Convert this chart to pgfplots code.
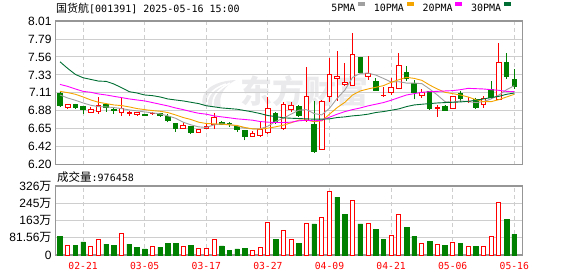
\documentclass[border=0pt]{standalone}
\usepackage{fontspec}
\setmainfont{Liberation Sans}
\newfontfamily\cjk{Noto Sans CJK SC}
\newfontfamily\mono{DejaVu Sans Mono}
\usepackage{pgfplots}
\usepackage{pgfplotstable}
\pgfplotsset{compat=1.18}
\usepgfplotslibrary{statistics}
\definecolor{kred}{RGB}{255,0,0}
\definecolor{kgreen}{RGB}{0,128,0}
\definecolor{ma5}{RGB}{160,160,160}
\definecolor{ma10}{RGB}{245,165,0}
\definecolor{ma20}{RGB}{255,0,255}
\definecolor{ma30}{RGB}{0,110,50}
\definecolor{gridc}{RGB}{206,206,206}
\definecolor{framec}{RGB}{150,150,150}
\definecolor{wmark}{RGB}{234,234,237}

% up (red, hollow) candles: O < C
\pgfplotstableread{
i O H L C
1 6.92 6.965 6.905 6.96
4 6.86 6.92 6.85 6.897
5 6.87 7.053 6.843 6.948
8 6.86 7.053 6.818 6.91
9 6.85 6.877 6.81 6.86
10 6.83 6.86 6.81 6.855
12 6.84 6.86 6.83 6.85
16 6.658 6.734 6.65 6.696
18 6.608 6.65 6.605 6.645
19 6.658 6.725 6.65 6.675
20 6.708 6.85 6.65 6.797
25 6.557 6.624 6.548 6.586
26 6.561 6.73 6.553 6.637
27 6.608 7.053 6.59 6.91
29 6.658 6.994 6.637 6.952
30 6.89 6.985 6.864 6.945
32 6.759 7.426 6.742 7.061
34 6.39 7.01 6.38 7.00
35 7.061 7.552 6.985 7.338
36 7.288 7.632 7.002 7.313
37 7.212 7.48 7.187 7.242
38 7.204 7.867 7.20 7.59
40 7.313 7.57 7.27 7.35
42 7.07 7.179 7.053 7.078
43 7.111 7.288 7.078 7.175
44 7.162 7.611 7.153 7.452
47 7.07 7.153 7.036 7.107
49 6.912 6.952 6.801 6.92
51 6.91 7.061 6.906 7.061
53 6.994 7.048 6.985 7.002
55 6.96 7.061 6.918 7.036
57 7.023 7.733 7.011 7.489
}\kup
% down (green, filled) candles: O > C
\pgfplotstableread{
i O H L C
0 7.10 7.11 6.92 6.94
2 6.952 6.97 6.90 6.918
3 6.927 6.93 6.835 6.89
6 6.952 6.955 6.864 6.914
7 6.893 6.92 6.843 6.88
11 6.832 6.843 6.81 6.825
13 6.84 6.856 6.805 6.82
14 6.805 6.834 6.73 6.75
15 6.713 6.72 6.616 6.658
17 6.683 6.69 6.59 6.608
21 6.73 6.75 6.696 6.708
22 6.72 6.73 6.675 6.713
23 6.683 6.70 6.616 6.645
24 6.628 6.635 6.503 6.557
28 6.847 6.86 6.713 6.73
31 6.927 6.952 6.805 6.818
33 6.70 7.002 6.347 6.364
39 7.556 7.56 7.355 7.363
41 7.254 7.288 7.137 7.137
45 7.368 7.443 7.259 7.288
46 7.221 7.263 7.023 7.111
48 7.12 7.12 6.902 6.906
50 6.927 6.952 6.88 6.88
52 7.095 7.128 6.994 7.032
54 7.027 7.044 6.902 6.918
56 7.153 7.254 7.027 7.044
58 7.493 7.603 7.284 7.309
59 7.28 7.405 7.153 7.191
}\kdn
% moving averages
\pgfplotstableread{
i m5 m10 m20 m30
0 7.078 7.124 7.212 7.498
1 7.040 7.108 7.187 7.414
2 7.011 7.087 7.154 7.338
3 6.977 7.053 7.124 7.296
4 6.948 7.015 7.112 7.275
5 6.931 6.986 7.091 7.254
6 6.927 6.969 7.078 7.250
7 6.919 6.952 7.061 7.217
8 6.906 6.944 7.045 7.170
9 6.889 6.927 7.028 7.120
10 6.877 6.906 7.015 7.103
11 6.864 6.893 7.003 7.078
12 6.852 6.881 6.982 7.070
13 6.839 6.872 6.961 7.053
14 6.814 6.856 6.940 7.028
15 6.784 6.826 6.914 7.015
16 6.734 6.793 6.893 7.003
17 6.700 6.768 6.868 6.986
18 6.675 6.734 6.847 6.969
19 6.667 6.717 6.835 6.942
20 6.700 6.713 6.814 6.928
21 6.713 6.709 6.801 6.914
22 6.705 6.700 6.789 6.906
23 6.688 6.692 6.776 6.898
24 6.658 6.667 6.768 6.881
25 6.650 6.650 6.759 6.864
26 6.650 6.646 6.742 6.843
27 6.684 6.658 6.734 6.818
28 6.742 6.675 6.730 6.805
29 6.784 6.696 6.730 6.789
30 6.835 6.726 6.734 6.784
31 6.885 6.759 6.751 6.780
32 6.893 6.763 6.759 6.776
33 6.843 6.740 6.751 6.772
34 6.826 6.751 6.759 6.772
35 6.910 6.835 6.797 6.776
36 7.036 6.919 6.835 6.793
37 7.141 6.986 6.868 6.801
38 7.301 7.078 6.893 6.814
39 7.351 7.129 6.914 6.822
40 7.355 7.154 6.940 6.835
41 7.330 7.175 6.961 6.856
42 7.288 7.196 6.982 6.868
43 7.242 7.238 7.011 6.885
44 7.246 7.271 7.045 6.902
45 7.229 7.301 7.078 6.931
46 7.229 7.288 7.095 6.952
47 7.221 7.263 7.112 6.961
48 7.154 7.204 7.120 6.969
49 7.078 7.154 7.124 6.977
50 6.994 7.112 7.129 6.982
51 6.986 7.095 7.133 6.986
52 7.003 7.078 7.145 6.990
53 6.994 7.053 7.162 6.998
54 6.982 7.019 7.158 7.011
55 6.994 6.994 7.154 7.028
56 7.028 6.994 7.145 7.045
57 7.078 7.019 7.137 7.061
58 7.145 7.053 7.124 7.087
59 7.196 7.087 7.120 7.103
}\ma
% volume (unit: 10^4 shares), red = up vs previous close
\pgfplotstableread{
i v
1 45.7
4 42.6
5 74.1
8 102.4
12 41.0
16 41.0
18 33.1
19 33.1
20 74.1
25 22.1
26 36.2
27 154.4
29 118.2
30 75.6
32 149.7
34 178.1
35 301.0
38 258.5
40 149.7
43 93.0
44 192.3
47 55.2
49 50.4
51 59.9
53 41.0
55 41.0
56 88.3
57 250.6
}\vup
\pgfplotstableread{
i v
0 89.8
2 47.3
3 61.5
6 52.0
7 47.3
9 52.0
10 34.7
11 28.4
13 37.8
14 56.7
15 56.7
17 47.3
21 42.6
22 23.6
23 28.4
24 33.1
28 75.6
31 56.7
33 146.6
36 274.2
37 193.8
39 146.6
41 122.9
42 75.6
45 132.4
46 89.8
48 66.2
50 47.3
52 56.7
54 41.0
58 170.2
59 97.6
}\vdn

\pgfplotsset{
  kbase/.style={scale only axis, width=467pt, xmin=-0.61, xmax=60.04,
    xtick={3,11,19,27,35,43,51,59}, major tick length=0pt,
    xmajorgrids, ymajorgrids,
    x grid style={gridc, line width=0.9pt, dash pattern=on 4pt off 3pt},
    y grid style={gridc, line width=0.9pt},
    axis line style={framec, line width=1.4pt},
    yticklabel style={font=\fontsize{12}{12}\selectfont, inner sep=0pt, xshift=-3.6pt},
  },
  candleup/.style={forget plot, draw=kred, line width=0.9pt,
    boxplot/every box/.style={draw=kred, fill=white},
    boxplot/every whisker/.style={draw=kred},
    boxplot/every median/.style={draw=kred}},
  candledn/.style={forget plot, draw=kgreen, fill=kgreen, line width=0.9pt,
    boxplot/every box/.style={draw=kgreen, fill=kgreen},
    boxplot/every whisker/.style={draw=kgreen},
    boxplot/every median/.style={draw=kgreen}},
}

\begin{document}
\begin{tikzpicture}[x=1pt,y=1pt]
\useasboundingbox (0,0) rectangle (578,-276);
% watermark (logo + name)
\fill[wmark] (203,-106) .. controls (199,-92) and (212,-81) .. (236,-80)
  .. controls (224,-86) and (218,-96) .. (221,-107) -- cycle;
\draw[white, line width=1.6pt] (207,-104) .. controls (207,-95) and (214,-88) .. (226,-84);
\draw[white, line width=1.6pt] (213,-106) .. controls (212,-97) and (217,-90) .. (230,-83);
\node[font=\cjk\bfseries\fontsize{32}{32}\selectfont, text=wmark, inner sep=0pt] at (304,-91) {东方财富};

\begin{axis}[kbase, at={(55.3pt,-164.7pt)}, anchor=south west, height=143.7pt,
  ymin=6.196, ymax=8.014,
  ytick={6.196,6.42325,6.6505,6.87775,7.105,7.33225,7.5595,7.78675,8.014},
  yticklabels={6.20,6.42,6.65,6.88,7.11,7.33,7.56,7.79,8.01},
  xticklabels={},
  boxplot/draw direction=y, boxplot/box extend=0.6, boxplot/whisker extend=0,
  legend columns=4, legend plot pos=right,
  legend style={draw=none, fill=none, inner sep=0pt, outer sep=0pt,
    at={(0.9752,1)}, anchor=south east, yshift=8.3pt,
    font=\mono\fontsize{10}{10}\selectfont, nodes={inner sep=0pt},
    /tikz/every even column/.append style={column sep=9pt}},
  legend image code/.code={\path (0pt,0pt); \fill[#1] (2.6pt,2.3pt) rectangle (8.6pt,6pt);},
]
\pgfplotstablegetrowsof{\kup}\pgfmathtruncatemacro\nup{\pgfplotsretval-1}
\pgfplotsinvokeforeach{0,...,\nup}{%
  \pgfplotstablegetelem{#1}{i}\of\kup\edef\ki{\pgfplotsretval}%
  \pgfplotstablegetelem{#1}{O}\of\kup\edef\ko{\pgfplotsretval}%
  \pgfplotstablegetelem{#1}{H}\of\kup\edef\kh{\pgfplotsretval}%
  \pgfplotstablegetelem{#1}{L}\of\kup\edef\kl{\pgfplotsretval}%
  \pgfplotstablegetelem{#1}{C}\of\kup\edef\kc{\pgfplotsretval}%
  \edef\doplot{\noexpand\addplot[candleup, boxplot prepared={draw position=\ki, lower whisker=\kl, lower quartile=\ko, median=\ko, upper quartile=\kc, upper whisker=\kh}] coordinates {};}%
  \doplot
}
\pgfplotstablegetrowsof{\kdn}\pgfmathtruncatemacro\ndn{\pgfplotsretval-1}
\pgfplotsinvokeforeach{0,...,\ndn}{%
  \pgfplotstablegetelem{#1}{i}\of\kdn\edef\ki{\pgfplotsretval}%
  \pgfplotstablegetelem{#1}{O}\of\kdn\edef\ko{\pgfplotsretval}%
  \pgfplotstablegetelem{#1}{H}\of\kdn\edef\kh{\pgfplotsretval}%
  \pgfplotstablegetelem{#1}{L}\of\kdn\edef\kl{\pgfplotsretval}%
  \pgfplotstablegetelem{#1}{C}\of\kdn\edef\kc{\pgfplotsretval}%
  \edef\doplot{\noexpand\addplot[candledn, boxplot prepared={draw position=\ki, lower whisker=\kl, lower quartile=\kc, median=\kc, upper quartile=\ko, upper whisker=\kh}] coordinates {};}%
  \doplot
}
\addplot[ma5, line width=0.9pt] table[x=i, y=m5] {\ma};
\addlegendentry{5PMA}
\addplot[ma10, line width=0.9pt] table[x=i, y=m10] {\ma};
\addlegendentry{10PMA}
\addplot[ma20, line width=0.9pt] table[x=i, y=m20] {\ma};
\addlegendentry{20PMA}
\addplot[ma30, line width=0.9pt] table[x=i, y=m30] {\ma};
\addlegendentry{30PMA}
\end{axis}

\begin{axis}[kbase, at={(55.3pt,-255pt)}, anchor=south west, height=69pt,
  ymin=0, ymax=326.24,
  ytick={0,81.56,163.12,244.68,326.24},
  yticklabels={0,81.56{\cjk 万},163{\cjk 万},245{\cjk 万},326{\cjk 万}},
  xticklabels={02-21,03-05,03-17,03-27,04-09,04-21,05-06,05-16},
  xticklabel style={font=\mono\fontsize{9.7}{9.7}\selectfont, text=kred, inner sep=0pt, anchor=north, yshift=-7pt},
]
\addplot[ybar, bar width=4pt, bar shift=0pt, draw=kred, fill=white, line width=0.9pt] table[x=i, y=v] {\vup};
\addplot[ybar, bar width=4.6pt, bar shift=0pt, draw=kgreen, fill=kgreen, line width=0.4pt] table[x=i, y=v] {\vdn};
\end{axis}

\node[anchor=base west, inner sep=0pt] at (56,-12.6) {{\cjk\fontsize{11}{11}\selectfont 国货航}{\mono\fontsize{10}{10}\selectfont[001391] 2025-05-16 15:00}};
\node[anchor=base west, inner sep=0pt] at (57,-181.5) {{\cjk\fontsize{11.5}{11.5}\selectfont 成交量}{\mono\fontsize{10}{10}\selectfont:976458}};
\end{tikzpicture}
\end{document}
